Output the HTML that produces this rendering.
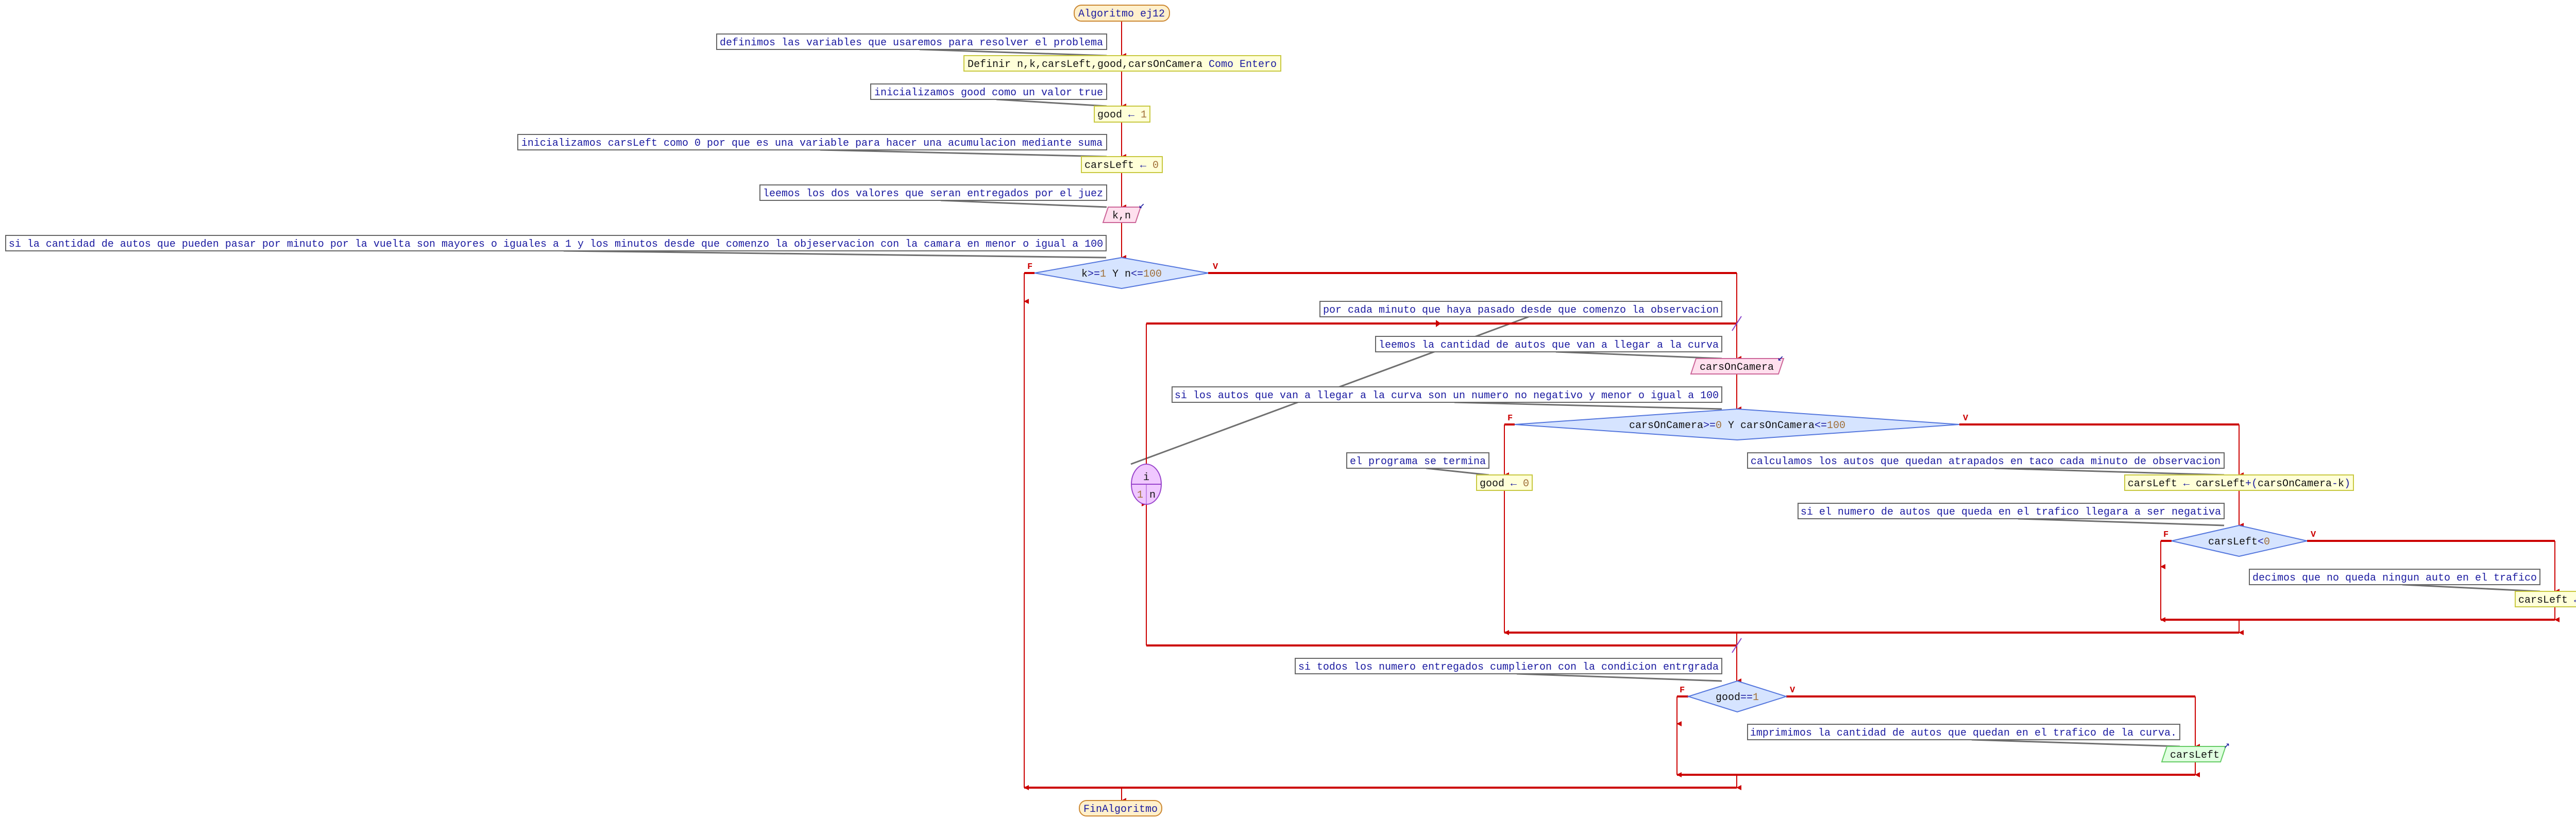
<!DOCTYPE html>
<html><head><meta charset="utf-8"><style>
html,body{margin:0;padding:0;background:#fff;}
svg{display:block;}
text{font-family:"Liberation Mono","DejaVu Sans Mono",monospace;font-size:20px;}
.c{fill:#1a1aa0;}
.k{fill:#111;}
.n{fill:#a0703a;}
.b{fill:#1a1aa0;}
.cm{fill:#fff;stroke:#666;stroke-width:2;}
.pr{fill:#ffffd8;stroke:#c8c840;stroke-width:2;}
.dm{fill:#d6e4ff;stroke:#5577dd;stroke-width:2;}
.in{fill:#ffe0ee;stroke:#cc6699;stroke-width:2;}
.out{fill:#e0ffe0;stroke:#66cc66;stroke-width:2;}
.ln{stroke:#cc0000;stroke-width:2;fill:none;}
.th{stroke:#cc0000;stroke-width:4;fill:none;}
.cn{stroke:#707070;stroke-width:3;fill:none;}
.lb{fill:#cc0000;font-size:17px;font-weight:bold;}
</style></head><body>
<svg width="5048" height="1619" viewBox="0 0 5048 1619" xmlns="http://www.w3.org/2000/svg">
<defs>
<marker id="a" markerWidth="10" markerHeight="10" refX="5" refY="9" orient="auto-start-reverse" markerUnits="userSpaceOnUse" viewBox="0 0 10 10"><path d="M0,0 L10,0 L5,10 z" fill="#cc0000"/></marker>
</defs>

<!-- connector lines from comments -->
<g class="cn">
<line x1="1785" y1="96" x2="2148" y2="108"/>
<line x1="1934" y1="193" x2="2148" y2="206"/>
<line x1="1592" y1="291" x2="2148" y2="304"/>
<line x1="1826" y1="389" x2="2148" y2="402"/>
<line x1="1094" y1="487" x2="2147" y2="500"/>
<line x1="2967" y1="615" x2="2195" y2="901"/>
<line x1="3020" y1="683" x2="3342" y2="696"/>
<line x1="2823" y1="781" x2="3342" y2="794"/>
<line x1="2768" y1="909" x2="2890" y2="922"/>
<line x1="3871" y1="909" x2="4317" y2="922"/>
<line x1="3917" y1="1007" x2="4317" y2="1020"/>
<line x1="4663" y1="1135" x2="4930" y2="1148"/>
<line x1="2944" y1="1308" x2="3342" y2="1322"/>
<line x1="3827" y1="1436" x2="4231" y2="1449"/>
</g>

<!-- flow lines -->
<g class="ln">
<line x1="2177" y1="41" x2="2177" y2="108" marker-end="url(#a)"/>
<line x1="2177" y1="138" x2="2177" y2="206" marker-end="url(#a)"/>
<line x1="2177" y1="237" x2="2177" y2="304" marker-end="url(#a)"/>
<line x1="2177" y1="335" x2="2177" y2="402" marker-end="url(#a)"/>
<line x1="2177" y1="432" x2="2177" y2="500" marker-end="url(#a)"/>
<line x1="1988" y1="530" x2="1988" y2="585" marker-end="url(#a)"/>
<line x1="1988" y1="585" x2="1988" y2="1529" marker-end="url(#a)"/>
<polyline points="3371,530 3371,628"/>
<line x1="3371" y1="628" x2="3371" y2="696" marker-end="url(#a)"/>
<line x1="3371" y1="726" x2="3371" y2="794" marker-end="url(#a)"/>
<line x1="2225" y1="628" x2="2225" y2="901"/>
<line x1="2225" y1="1253" x2="2225" y2="978" marker-end="url(#a)"/>
<line x1="2920" y1="824" x2="2920" y2="922" marker-end="url(#a)"/>
<line x1="2920" y1="952" x2="2920" y2="1228" marker-end="url(#a)"/>
<line x1="4346" y1="824" x2="4346" y2="922" marker-end="url(#a)"/>
<line x1="4346" y1="952" x2="4346" y2="1020" marker-end="url(#a)"/>
<line x1="4194" y1="1050" x2="4194" y2="1100" marker-end="url(#a)"/>
<line x1="4194" y1="1100" x2="4194" y2="1203" marker-end="url(#a)"/>
<line x1="4959" y1="1050" x2="4959" y2="1148" marker-end="url(#a)"/>
<line x1="4959" y1="1178" x2="4959" y2="1203" marker-end="url(#a)"/>
<line x1="4346" y1="1203" x2="4346" y2="1228" marker-end="url(#a)"/>
<line x1="3371" y1="1228" x2="3371" y2="1253"/>
<line x1="3371" y1="1253" x2="3371" y2="1322" marker-end="url(#a)"/>
<line x1="3255" y1="1352" x2="3255" y2="1405" marker-end="url(#a)"/>
<line x1="3255" y1="1405" x2="3255" y2="1504" marker-end="url(#a)"/>
<line x1="4261" y1="1352" x2="4261" y2="1449" marker-end="url(#a)"/>
<line x1="4261" y1="1479" x2="4261" y2="1504" marker-end="url(#a)"/>
<line x1="3371" y1="1504" x2="3371" y2="1529" marker-end="url(#a)"/>
<line x1="2177" y1="1529" x2="2177" y2="1554" marker-end="url(#a)"/>
</g>
<g class="th">
<polyline points="2008,530 1988,530"/>
<polyline points="2345,530 3371,530"/>
<line x1="2225" y1="628" x2="3371" y2="628"/>
<line x1="2225" y1="1253" x2="3371" y2="1253"/>
<polyline points="2940,824 2920,824"/>
<polyline points="3803,824 4346,824"/>
<polyline points="4215,1050 4194,1050"/>
<polyline points="4478,1050 4959,1050"/>
<line x1="4194" y1="1203" x2="4959" y2="1203"/>
<line x1="2920" y1="1228" x2="4346" y2="1228"/>
<polyline points="3277,1352 3255,1352"/>
<polyline points="3467,1352 4261,1352"/>
<line x1="3255" y1="1504" x2="4261" y2="1504"/>
<line x1="1988" y1="1529" x2="3371" y2="1529"/>
</g>
<path d="M2787,621 L2797,628 L2787,635 z" fill="#cc0000"/>
<line x1="3362" y1="642" x2="3380" y2="614" stroke="#8844cc" stroke-width="2"/>
<line x1="3362" y1="1267" x2="3380" y2="1239" stroke="#8844cc" stroke-width="2"/>

<!-- F/V labels -->
<text class="lb" x="1994" y="522">F</text>
<text class="lb" x="2354" y="522">V</text>
<text class="lb" x="2926" y="816">F</text>
<text class="lb" x="3810" y="816">V</text>
<text class="lb" x="4199" y="1042">F</text>
<text class="lb" x="4485" y="1042">V</text>
<text class="lb" x="3260" y="1344">F</text>
<text class="lb" x="3474" y="1344">V</text>

<!-- start -->
<rect x="2085" y="10" width="185" height="31" rx="14" fill="#fff0cc" stroke="#cc8833" stroke-width="2"/>
<text class="c" x="2177" y="32" text-anchor="middle">Algoritmo ej12</text>

<!-- comments -->
<rect class="cm" x="1391" y="66" width="757" height="30"/>
<text class="c" x="1769" y="88" text-anchor="middle">definimos las variables que usaremos para resolver el problema</text>
<rect class="cm" x="1690" y="163" width="458" height="30"/>
<text class="c" x="1919" y="185" text-anchor="middle">inicializamos good como un valor true</text>
<rect class="cm" x="1005" y="261" width="1143" height="30"/>
<text class="c" x="1576" y="283" text-anchor="middle">inicializamos carsLeft como 0 por que es una variable para hacer una acumulacion mediante suma</text>
<rect class="cm" x="1475" y="359" width="673" height="30"/>
<text class="c" x="1811" y="381" text-anchor="middle">leemos los dos valores que seran entregados por el juez</text>
<rect class="cm" x="11" y="457" width="2136" height="30"/>
<text class="c" x="1079" y="479" text-anchor="middle">si la cantidad de autos que pueden pasar por minuto por la vuelta son mayores o iguales a 1 y los minutos desde que comenzo la objeservacion con la camara en menor o igual a 100</text>
<rect class="cm" x="2562" y="585" width="780" height="30"/>
<text class="c" x="2952" y="607" text-anchor="middle">por cada minuto que haya pasado desde que comenzo la observacion</text>
<rect class="cm" x="2670" y="653" width="672" height="30"/>
<text class="c" x="3006" y="675" text-anchor="middle">leemos la cantidad de autos que van a llegar a la curva</text>
<rect class="cm" x="2275" y="751" width="1067" height="30"/>
<text class="c" x="2808" y="773" text-anchor="middle">si los autos que van a llegar a la curva son un numero no negativo y menor o igual a 100</text>
<rect class="cm" x="2614" y="879" width="276" height="30"/>
<text class="c" x="2752" y="901" text-anchor="middle">el programa se termina</text>
<rect class="cm" x="3392" y="879" width="925" height="30"/>
<text class="c" x="3854" y="901" text-anchor="middle">calculamos los autos que quedan atrapados en taco cada minuto de observacion</text>
<rect class="cm" x="3490" y="977" width="827" height="30"/>
<text class="c" x="3903" y="999" text-anchor="middle">si el numero de autos que queda en el trafico llegara a ser negativa</text>
<rect class="cm" x="4366" y="1105" width="564" height="30"/>
<text class="c" x="4648" y="1127" text-anchor="middle">decimos que no queda ningun auto en el trafico</text>
<rect class="cm" x="2514" y="1278" width="828" height="30"/>
<text class="c" x="2928" y="1300" text-anchor="middle">si todos los numero entregados cumplieron con la condicion entrgrada</text>
<rect class="cm" x="3392" y="1406" width="839" height="30"/>
<text class="c" x="3811" y="1428" text-anchor="middle">imprimimos la cantidad de autos que quedan en el trafico de la curva.</text>

<!-- processes -->
<rect class="pr" x="1871" y="108" width="615" height="30"/>
<text x="2178" y="130" text-anchor="middle"><tspan class="k">Definir n,k,carsLeft,good,carsOnCamera </tspan><tspan class="b">Como Entero</tspan></text>
<rect class="pr" x="2124" y="206" width="108" height="31"/>
<text x="2178" y="228" text-anchor="middle"><tspan class="k">good </tspan><tspan class="b">←</tspan><tspan class="n"> 1</tspan></text>
<rect class="pr" x="2099" y="304" width="157" height="31"/>
<text x="2177" y="326" text-anchor="middle"><tspan class="k">carsLeft </tspan><tspan class="b">←</tspan><tspan class="n"> 0</tspan></text>
<rect class="pr" x="2866" y="922" width="108" height="30"/>
<text x="2920" y="944" text-anchor="middle"><tspan class="k">good </tspan><tspan class="b">←</tspan><tspan class="n"> 0</tspan></text>
<rect class="pr" x="4124" y="922" width="444" height="30"/>
<text x="4346" y="944" text-anchor="middle"><tspan class="k">carsLeft </tspan><tspan class="b">←</tspan><tspan class="k"> carsLeft</tspan><tspan class="b">+(</tspan><tspan class="k">carsOnCamera</tspan><tspan class="b">-</tspan><tspan class="k">k</tspan><tspan class="b">)</tspan></text>
<rect class="pr" x="4882" y="1148" width="156" height="30"/>
<text x="4960" y="1170" text-anchor="middle"><tspan class="k">carsLeft </tspan><tspan class="b">←</tspan><tspan class="n"> 0</tspan></text>

<!-- inputs/outputs -->
<polygon class="in" points="2151,402 2214,402 2204,432 2141,432"/>
<text class="k" x="2177" y="424" text-anchor="middle">k,n</text>
<text class="b" x="2210" y="404" font-size="22">↙</text>
<polygon class="in" points="3292,696 3462,696 3452,726 3282,726"/>
<text class="k" x="3371" y="718" text-anchor="middle">carsOnCamera</text>
<text class="b" x="3450" y="700" font-size="22">↙</text>
<polygon class="out" points="4206,1449 4320,1449 4310,1479 4196,1479"/>
<text class="k" x="4260" y="1471" text-anchor="middle">carsLeft</text>
<text class="b" x="4316" y="1452" font-size="22">↗</text>

<!-- decisions -->
<polygon class="dm" points="2177,500 2345,530 2177,560 2008,530"/>
<text x="2177" y="537" text-anchor="middle"><tspan class="k">k</tspan><tspan class="b">&gt;=</tspan><tspan class="n">1</tspan><tspan class="k"> Y n</tspan><tspan class="b">&lt;=</tspan><tspan class="n">100</tspan></text>
<polygon class="dm" points="3372,794 3803,824 3372,854 2940,824"/>
<text x="3372" y="831" text-anchor="middle"><tspan class="k">carsOnCamera</tspan><tspan class="b">&gt;=</tspan><tspan class="n">0</tspan><tspan class="k"> Y carsOnCamera</tspan><tspan class="b">&lt;=</tspan><tspan class="n">100</tspan></text>
<polygon class="dm" points="4346,1020 4478,1050 4346,1080 4215,1050"/>
<text x="4346" y="1057" text-anchor="middle"><tspan class="k">carsLeft</tspan><tspan class="b">&lt;</tspan><tspan class="n">0</tspan></text>
<polygon class="dm" points="3372,1322 3467,1352 3372,1382 3277,1352"/>
<text x="3372" y="1359" text-anchor="middle"><tspan class="k">good</tspan><tspan class="b">==</tspan><tspan class="n">1</tspan></text>

<!-- loop node -->
<ellipse cx="2225" cy="940" rx="29" ry="39" fill="#f0c8ff" stroke="#9944cc" stroke-width="2"/>
<line x1="2196" y1="940" x2="2254" y2="940" stroke="#9944cc" stroke-width="2"/>
<line x1="2225" y1="940" x2="2225" y2="978" stroke="#9944cc" stroke-width="1"/>
<text class="k" x="2225" y="932" text-anchor="middle">i</text>
<text class="n" x="2213" y="966" text-anchor="middle">1</text>
<text class="k" x="2237" y="966" text-anchor="middle">n</text>

<!-- end -->
<rect x="2095" y="1554" width="160" height="30" rx="14" fill="#fff0cc" stroke="#cc8833" stroke-width="2"/>
<text class="c" x="2175" y="1576" text-anchor="middle">FinAlgoritmo</text>
</svg>
</body></html>
